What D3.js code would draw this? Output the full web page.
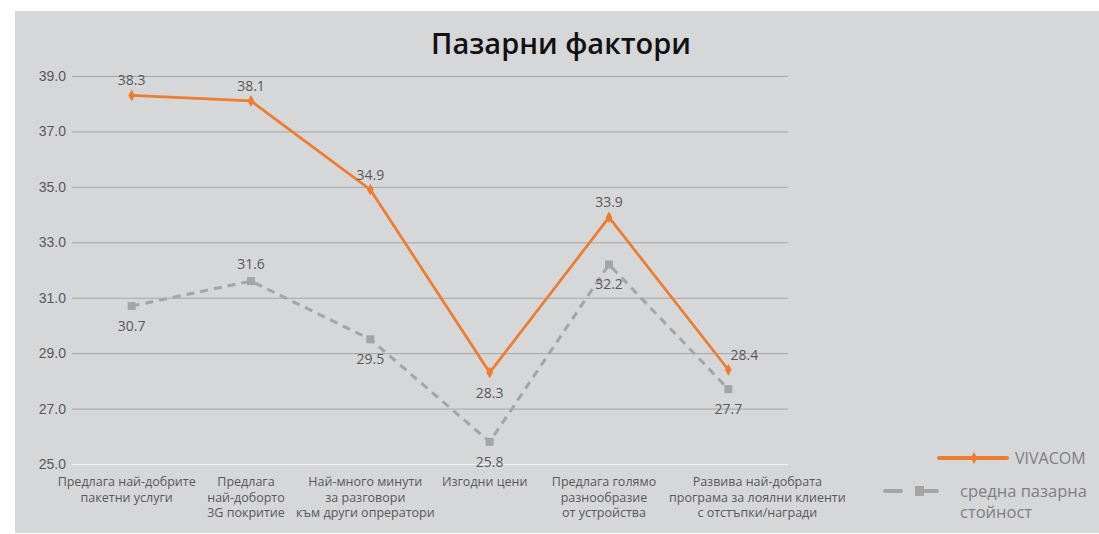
<!DOCTYPE html>
<html>
<head>
<meta charset="utf-8">
<script src="https://cdn.jsdelivr.net/npm/d3@7"></script>
<style>
  body { margin: 0; background: #fff; }
  svg { display: block; font-family: "Open Sans", "Noto Sans", sans-serif; }
</style>
</head>
<body>
<div id="chart"></div>
<script>
const categories = [
  ["Предлага най-добрите", "пакетни услуги"],
  ["Предлага", "най-доборто", "3G покритие"],
  ["Най-много минути", "за разговори", "към други опрератори"],
  ["Изгодни цени"],
  ["Предлага голямо", "разнообразие", "от устройства"],
  ["Развива най-добрата", "програма за лоялни клиенти", "с отстъпки/награди"]
];
const vivacom = [38.3, 38.1, 34.9, 28.3, 33.9, 28.4];
const average = [30.7, 31.6, 29.5, 25.8, 32.2, 27.7];
const yTicks = [25, 27, 29, 31, 33, 35, 37, 39];
// label placement: -1 above the point, 1 below
const vivLabelSide = [-1, -1, -1, 1, -1, -1];
const avgLabelSide = [1, -1, 1, 1, 1, 1];

const width = 1099, height = 534;
const margin = { left: 72, right: 311, top: 76, bottom: 70 };
const plotW = width - margin.left - margin.right;
const plotH = height - margin.top - margin.bottom;

const svg = d3.select("#chart").append("svg")
  .attr("width", width)
  .attr("height", height);

// panel background
svg.append("rect")
  .attr("x", 15).attr("y", 11)
  .attr("width", width - 15).attr("height", 522)
  .attr("fill", "#d6d7d9");

svg.append("text")
  .attr("x", 561).attr("y", 54)
  .attr("text-anchor", "middle")
  .attr("font-size", 29)
  .attr("font-weight", 600)
  .attr("fill", "#111")
  .text("Пазарни фактори");

const g = svg.append("g").attr("transform", `translate(${margin.left},${margin.top})`);

const x = d3.scaleBand().domain(d3.range(categories.length)).range([0, plotW]);
const y = d3.scaleLinear().domain([25, 39]).range([plotH, 0]);
const cx = i => x(i) + x.bandwidth() / 2;

// y axis + gridlines
const yAxis = g.append("g")
  .call(d3.axisLeft(y).tickValues(yTicks).tickSize(-plotW).tickPadding(6).tickFormat(d3.format(".1f")));
yAxis.select(".domain").remove();
yAxis.selectAll(".tick line")
  .attr("stroke", d => d === 25 ? "#f2f2f2" : "#a6a6a6")
  .attr("stroke-width", 1);
yAxis.selectAll(".tick text")
  .attr("fill", "#595959")
  .attr("font-size", 14);

// x axis labels (wrapped like the original, last one spills to the right)
const xl = g.append("g").attr("transform", `translate(0,${plotH})`);
categories.forEach((lines, i) => {
  const lx = cx(i) + (i === categories.length - 1 ? 29 : -5);
  const t = xl.append("text")
    .attr("x", lx).attr("y", 22)
    .attr("text-anchor", "middle")
    .attr("font-size", 12.5)
    .attr("fill", "#595959");
  lines.forEach((l, j) => {
    t.append("tspan").attr("x", lx).attr("dy", j === 0 ? 0 : 15.5).text(l);
  });
});

const line = d3.line().x((d, i) => cx(i)).y(d => y(d));

// average series
g.append("path")
  .datum(average)
  .attr("d", line)
  .attr("fill", "none")
  .attr("stroke", "#a5a5a5")
  .attr("stroke-width", 3)
  .attr("stroke-dasharray", "8,6");
g.selectAll(".avg-pt").data(average).enter().append("rect")
  .attr("x", (d, i) => cx(i) - 4)
  .attr("y", d => y(d) - 4)
  .attr("width", 8).attr("height", 8)
  .attr("fill", "#a5a5a5");

// vivacom series
g.append("path")
  .datum(vivacom)
  .attr("d", line)
  .attr("fill", "none")
  .attr("stroke", "#ed7d31")
  .attr("stroke-width", 2.75);
g.selectAll(".viv-pt").data(vivacom).enter().append("path")
  .attr("transform", (d, i) => `translate(${cx(i)},${y(d)})`)
  .attr("d", d3.symbol(d3.symbolDiamond, 40))
  .attr("fill", "#ed7d31");

// data labels
g.selectAll(".viv-lbl").data(vivacom).enter().append("text")
  .attr("x", (d, i) => i === 5 ? cx(i) + 16 : cx(i))
  .attr("y", (d, i) => vivLabelSide[i] > 0 ? y(d) + 25 : y(d) - 10)
  .attr("text-anchor", "middle")
  .attr("font-size", 14)
  .attr("fill", "#595959")
  .text(d => d.toFixed(1));

g.selectAll(".avg-lbl").data(average).enter().append("text")
  .attr("x", (d, i) => cx(i))
  .attr("y", (d, i) => avgLabelSide[i] > 0 ? y(d) + 25 : y(d) - 12)
  .attr("text-anchor", "middle")
  .attr("font-size", 14)
  .attr("fill", "#595959")
  .text(d => d.toFixed(1));

// legend
const lg = svg.append("g");
lg.append("line")
  .attr("x1", 939).attr("x2", 1007).attr("y1", 458).attr("y2", 458)
  .attr("stroke", "#ed7d31").attr("stroke-width", 4).attr("stroke-linecap", "round");
lg.append("path")
  .attr("transform", "translate(974,458)")
  .attr("d", d3.symbol(d3.symbolDiamond, 40))
  .attr("fill", "#ed7d31");
lg.append("text")
  .attr("x", 1015).attr("y", 464)
  .attr("font-size", 16).attr("fill", "#7f7f7f")
  .text("VIVACOM");

lg.append("line")
  .attr("x1", 885).attr("x2", 901).attr("y1", 491).attr("y2", 491)
  .attr("stroke", "#a5a5a5").attr("stroke-width", 4).attr("stroke-linecap", "round");
lg.append("line")
  .attr("x1", 918).attr("x2", 937).attr("y1", 491).attr("y2", 491)
  .attr("stroke", "#a5a5a5").attr("stroke-width", 4).attr("stroke-linecap", "round");
lg.append("rect")
  .attr("x", 915).attr("y", 486).attr("width", 9).attr("height", 10)
  .attr("fill", "#a5a5a5");
const lt = lg.append("text")
  .attr("x", 960).attr("y", 497)
  .attr("font-size", 16.5).attr("fill", "#7f7f7f");
lt.append("tspan").attr("x", 960).text("средна пазарна");
lt.append("tspan").attr("x", 960).attr("dy", 21).text("стойност");
</script>
</body>
</html>
